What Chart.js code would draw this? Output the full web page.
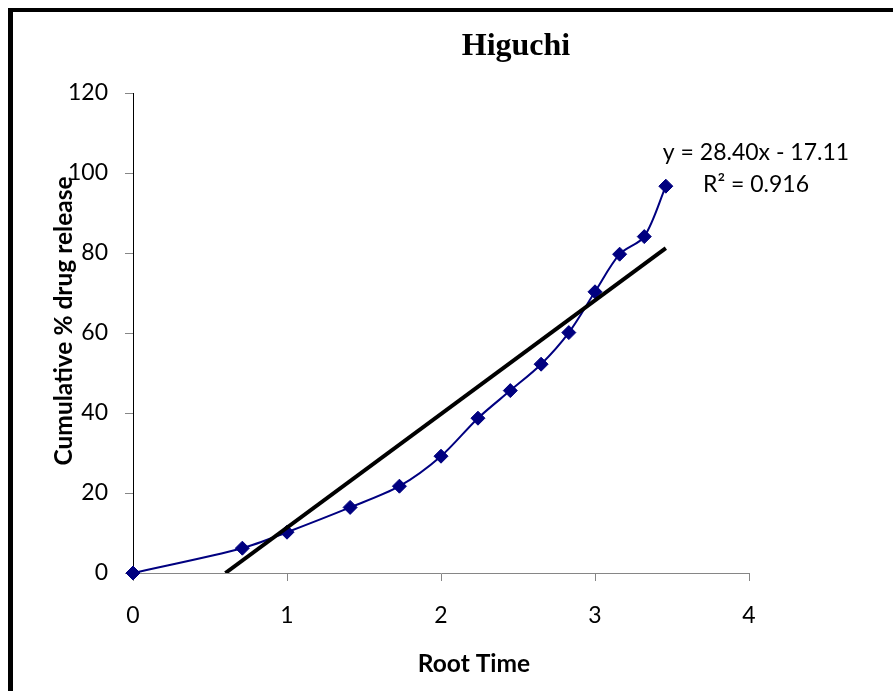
<!DOCTYPE html>
<html>
<head>
<meta charset="utf-8">
<script src="https://cdn.jsdelivr.net/npm/chart.js@4/dist/chart.umd.min.js"></script>
<style>
  html, body { margin: 0; padding: 0; background: #fff; }
  canvas { display: block; }
</style>
</head>
<body>
<canvas id="higuchiChart" width="893" height="691"></canvas>
<script>
// Higuchi data: square root of time vs cumulative % drug release
const rootTime = [0, 0.71, 1.00, 1.41, 1.73, 2.00, 2.24, 2.45, 2.65, 2.83, 3.00, 3.16, 3.32, 3.46];
const drugRelease = [0, 6.2, 10.2, 16.4, 21.7, 29.2, 38.7, 45.6, 52.2, 60.1, 70.3, 79.7, 84.1, 96.7];

// linear trendline end points (y = 28.40x - 17.11)
const trendX = [0.60, 3.46];
const trendY = [0, 81.2];

const xTicks = [0, 1, 2, 3, 4];
const yTicks = [0, 20, 40, 60, 80, 100, 120];

const equationText = "y = 28.40x - 17.11";
const r2Text = "R\u00B2 = 0.916";

// Frame, titles and trendline label
const decorations = {
    id: "decorations",
    beforeDraw(chart) {
        const ctx = chart.ctx;
        ctx.save();
        ctx.fillStyle = "#fff";
        ctx.fillRect(0, 0, chart.width, chart.height);
        ctx.fillStyle = "#000";
        ctx.fillRect(8, 8, 5, chart.height - 8);
        ctx.fillRect(8, 8, chart.width - 8, 4);
        ctx.restore();
    },
    afterDraw(chart) {
        const ctx = chart.ctx;
        ctx.save();
        ctx.fillStyle = "#000";
        ctx.textAlign = "center";
        ctx.textBaseline = "alphabetic";
        ctx.font = "bold 32px 'Liberation Serif', serif";
        ctx.fillText("Higuchi", 516, 55);
        ctx.font = "23px Lato, sans-serif";
        ctx.fillText(equationText, 756, 160);
        ctx.fillText(r2Text, 756, 192);

        // axis titles
        ctx.font = "bold 24.5px Lato, sans-serif";
        ctx.textBaseline = "middle";
        ctx.fillText("Root Time", 474, 664);
        ctx.translate(64, 321);
        ctx.rotate(-Math.PI / 2);
        ctx.fillText("Cumulative % drug release", 0, 0);
        ctx.restore();
    }
};

const higuchiChart = new Chart(document.getElementById("higuchiChart"), {
    type: "scatter",
    data: {
        datasets: [{
            label: "Linear trend",
            data: trendX.map((x, i) => ({ x: x, y: trendY[i] })),
            showLine: true,
            borderColor: "#000",
            borderWidth: 4,
            pointRadius: 0
        }, {
            label: "Cumulative % drug release",
            data: rootTime.map((x, i) => ({ x: x, y: drugRelease[i] })),
            showLine: true,
            clip: false,
            tension: 0.3,
            borderColor: "#000080",
            borderWidth: 2,
            pointStyle: "rectRot",
            pointRadius: 7,
            pointBackgroundColor: "#000080",
            pointBorderColor: "#000080",
            pointBorderWidth: 1
        }]
    },
    options: {
        responsive: false,
        animation: false,
        layout: { padding: { left: 0, right: 144, top: 93, bottom: 0 } },
        plugins: {
            legend: { display: false },
            tooltip: { enabled: false }
        },
        scales: {
            x: {
                type: "linear",
                min: 0,
                max: 4,
                afterFit(scale) { scale.height = 118; },
                afterBuildTicks(scale) { scale.ticks = xTicks.map(v => ({ value: v })); },
                grid: { drawOnChartArea: false, tickLength: 8, color: "#868686" },
                border: { color: "#868686", width: 1 },
                ticks: { color: "#000", padding: 21, font: { family: "Lato", size: 23 } }
            },
            y: {
                min: 0,
                max: 120,
                afterFit(scale) { scale.width = 133; },
                afterBuildTicks(scale) { scale.ticks = yTicks.map(v => ({ value: v })); },
                grid: { drawOnChartArea: false, tickLength: 8, color: "#868686" },
                border: { color: "#000", width: 1 },
                ticks: { color: "#000", padding: 17, font: { family: "Lato", size: 23 } }
            }
        }
    },
    plugins: [decorations]
});
</script>
</body>
</html>
